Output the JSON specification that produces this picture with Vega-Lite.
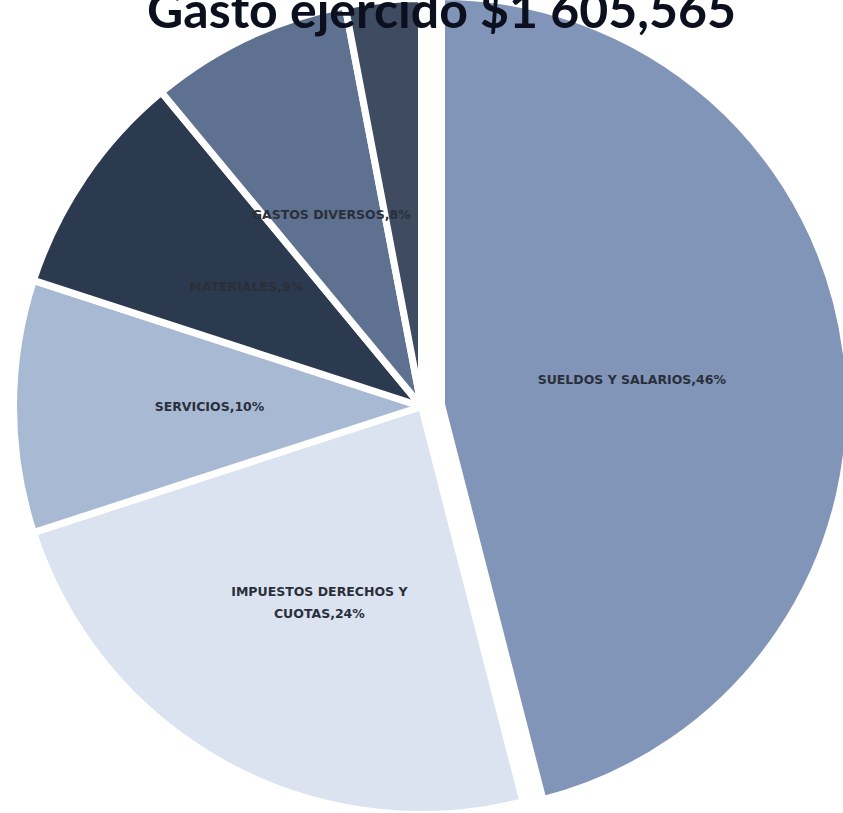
{
  "$schema": "https://vega.github.io/schema/vega-lite/v6.json",
  "width": 843,
  "height": 813,
  "padding": 0,
  "autosize": {"type": "none"},
  "background": "white",
  "data": {
    "values": [
      {"categoria": "SUELDOS Y SALARIOS", "valor": 46, "orden": 1, "etiqueta": "SUELDOS Y SALARIOS,46%"},
      {"categoria": "IMPUESTOS DERECHOS Y CUOTAS", "valor": 24, "orden": 2, "etiqueta": "IMPUESTOS DERECHOS Y\nCUOTAS,24%"},
      {"categoria": "SERVICIOS", "valor": 10, "orden": 3, "etiqueta": "SERVICIOS,10%"},
      {"categoria": "MATERIALES", "valor": 9, "orden": 4, "etiqueta": "MATERIALES,9%"},
      {"categoria": "GASTOS DIVERSOS", "valor": 8, "orden": 5, "etiqueta": "GASTOS DIVERSOS,8%"},
      {"categoria": "OTROS", "valor": 3, "orden": 6, "etiqueta": ""}
    ]
  },
  "layer": [
    {
      "transform": [
        {"stack": "valor", "groupby": [], "sort": [{"field": "orden", "order": "ascending"}], "as": ["t0", "t1"]},
        {"filter": "datum.orden != 1"}
      ],
      "mark": {"type": "arc", "outerRadius": 408, "stroke": "white", "strokeWidth": 7, "strokeJoin": "miter"},
      "encoding": {
        "theta": {"field": "t0", "type": "quantitative", "scale": {"domain": [0, 100]}},
        "theta2": {"field": "t1"},
        "color": {
          "field": "categoria",
          "type": "nominal",
          "legend": null,
          "scale": {
            "domain": ["SUELDOS Y SALARIOS", "IMPUESTOS DERECHOS Y CUOTAS", "SERVICIOS", "MATERIALES", "GASTOS DIVERSOS", "OTROS"],
            "range": ["#8095b7", "#dae3ef", "#a8b9d3", "#2c3a4f", "#5f7190", "#3e4b60"]
          }
        }
      }
    },
    {
      "transform": [
        {"stack": "valor", "groupby": [], "sort": [{"field": "orden", "order": "ascending"}], "as": ["t0", "t1"]},
        {"filter": "datum.orden == 1"}
      ],
      "mark": {"type": "arc", "outerRadius": 408, "stroke": "white", "strokeWidth": 7, "strokeJoin": "miter", "xOffset": 20, "yOffset": -2},
      "encoding": {
        "theta": {"field": "t0", "type": "quantitative", "scale": {"domain": [0, 100]}},
        "theta2": {"field": "t1"},
        "color": {"field": "categoria", "type": "nominal", "legend": null}
      }
    },
    {
      "mark": {
        "type": "text",
        "radius": 212,
        "font": "DejaVu Sans",
        "fontSize": 12.5,
        "fontWeight": "bold",
        "letterSpacing": 1,
        "lineBreak": "\n",
        "lineHeight": 22,
        "fill": "#2a2f3a"
      },
      "encoding": {
        "theta": {"field": "valor", "type": "quantitative", "stack": true},
        "order": {"field": "orden", "type": "quantitative", "sort": "ascending"},
        "text": {"field": "etiqueta", "type": "nominal"}
      }
    },
    {
      "data": {"values": [{"titulo": "Gasto ejercido  $1 605,565"}]},
      "mark": {
        "type": "text",
        "font": "Lato",
        "fontSize": 50,
        "fontWeight": "bold",
        "fill": "#0b0f1e",
        "baseline": "alphabetic",
        "align": "center",
        "radius": 379,
        "theta": 0,
        "dx": 20
      },
      "encoding": {
        "text": {"field": "titulo", "type": "nominal"}
      }
    }
  ]
}
